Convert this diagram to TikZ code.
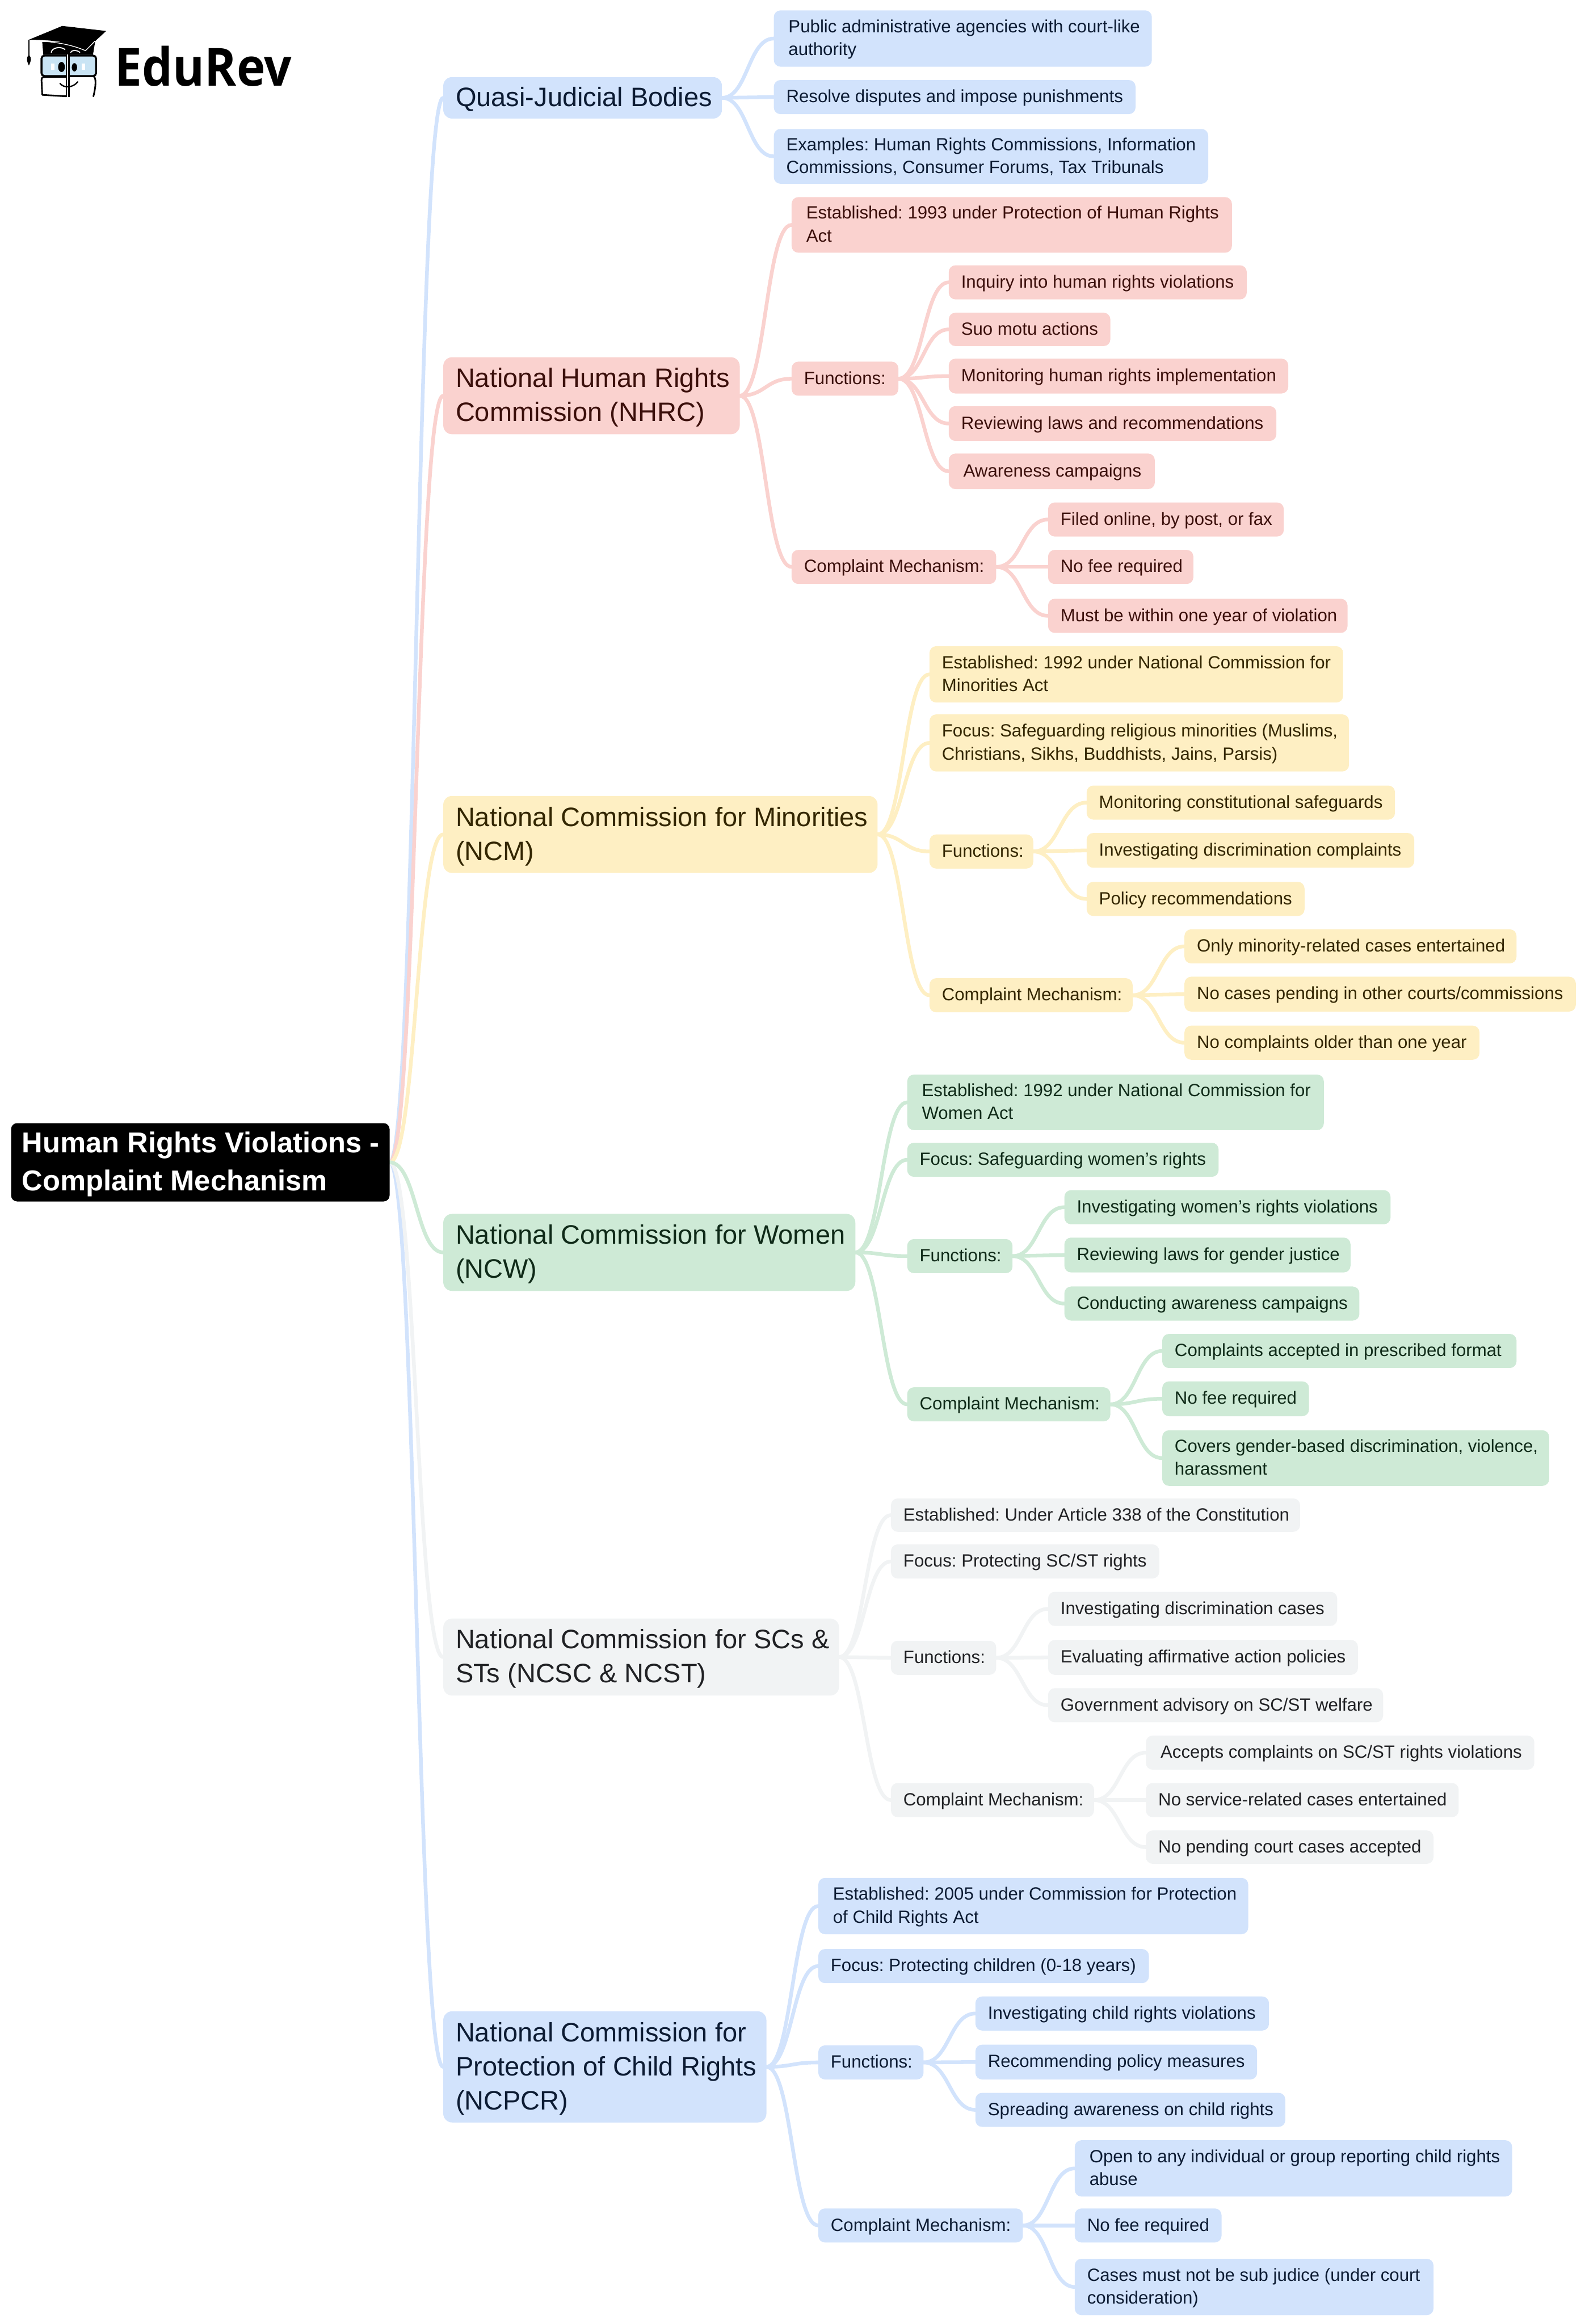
\documentclass[tikz,border=0pt]{standalone}
\usepackage{fontspec}
\usepackage{graphicx}
\setmainfont{Liberation Sans}
\newfontfamily\logofont{Open Sans}
\usetikzlibrary{calc,backgrounds}
\definecolor{cblue}{HTML}{D2E3FC}
\definecolor{cred}{HTML}{FAD2CF}
\definecolor{cyel}{HTML}{FEEFC3}
\definecolor{cgrn}{HTML}{CEEAD6}
\definecolor{cgry}{HTML}{F1F3F4}
\definecolor{tblue}{HTML}{0C1B33}
\definecolor{tred}{HTML}{3B0F0B}
\definecolor{tyel}{HTML}{332600}
\definecolor{tgrn}{HTML}{0F2A18}
\definecolor{tgry}{HTML}{202124}
\definecolor{lens}{HTML}{C9E4F4}
\newcommand{\bxdrop}{1pt}
\tikzset{
  base/.style={rectangle,outer sep=0pt,inner ysep=0pt},
  leaf/.style={base,rounded corners=4.5pt,font=\fontsize{11.95}{15.5}\selectfont\frenchspacing\renewcommand{\bxdrop}{0.6pt}},
  major/.style={base,rounded corners=6pt,font=\fontsize{18}{23}\selectfont\frenchspacing\renewcommand{\bxdrop}{1.3pt}},
  rootbox/.style={base,rounded corners=4pt,fill=black,text=white,font=\fontsize{19.4}{25.5}\selectfont\bfseries\frenchspacing\renewcommand{\bxdrop}{1.3pt}},
  fb/.style={fill=cblue,text=tblue},
  fr/.style={fill=cred,text=tred},
  fy/.style={fill=cyel,text=tyel},
  fg/.style={fill=cgrn,text=tgrn},
  fa/.style={fill=cgry,text=tgry},
  lnkline/.style={line width=2.5pt,line cap=round},
}
\newcommand{\bx}[8]{%
  \pgfmathsetmacro\bxw{#4-#3}%
  \pgfmathsetmacro\bxh{#6-#5}%
  \pgfmathsetmacro\bxi{#4-#3-2*#7}%
  \node[#2,minimum width=\bxw pt,minimum height=\bxh pt,inner xsep=#7 pt,anchor=north west] (#1) at (#3,#5)
   {\makebox[\bxi pt][l]{\hspace{0.4pt}\raisebox{-\bxdrop}[\height][\depth]{\begin{tabular}{@{}l@{}}#8\end{tabular}}}};}
\newcommand{\lnk}[3]{%
  \path let \p1=(#1.east),\p2=(#2.west),\n1={(\x1+\x2)/2} in
   coordinate (lka) at (\n1,\y1) coordinate (lkb) at (\n1,\y2);
  \draw[lnkline,draw=#3] (#1.east) .. controls (lka) and (lkb) .. (#2.west);}
\begin{document}
\begin{tikzpicture}[x=1pt,y=-1pt]
\useasboundingbox (0,0) rectangle (1069,1568);
% logo
\fill[black] (28.5,28.4) -- (64.2,28) -- (62.7,37) -- (29.2,37) -- cycle;
\fill[black] (42,17.5) -- (71.6,20.9) -- (57.7,33.8) .. controls (47,28) and (35,27) .. (19.5,26.8) -- cycle;
\draw[white,line width=.5pt] (28.5,27.8) .. controls (38,28.5) and (48,30) .. (57.7,34.2) -- (64,27.8);
\draw[white,line width=.7pt] (34.5,35.5) .. controls (35,32) and (41,31) .. (44,33.5);
\draw[white,line width=.7pt] (47.5,35.5) .. controls (48.5,33.5) and (52,33.5) .. (54,35.5);
\draw[black,line width=.8pt] (19.5,26.8) -- (19.5,37.4);
\fill[black] (19.5,37) .. controls (17.5,39) and (18,41) .. (19.5,44.2) .. controls (21,41) and (21.5,39) .. (19.5,37) -- cycle;
\draw[black,line width=1.3pt,fill=lens,rounded corners=2pt] (28,37.5) rectangle (64.8,51.3);
\draw[black,line width=1.1pt,line cap=round,line join=round] (45,51.8) -- (30,52) .. controls (28.3,52) and (27.8,53) .. (28,54) -- (28.5,64) -- (45,65);
\draw[black,line width=1.1pt,line cap=round,line join=round] (47,51.5) -- (63,51.5) .. controls (65,52) and (64.8,58) .. (63,65);
\fill[white] (45.2,36.7) rectangle (46.7,65.3);
\draw[black,line width=.8pt] (44.8,36.7) -- (44.8,65);
\draw[black,line width=.8pt] (46.5,36.7) -- (46.5,65.3);
\fill[black] (41.5,45.2) ellipse [x radius=2.3,y radius=3.4];
\fill[black] (50.2,45.4) ellipse [x radius=1.8,y radius=2.8];
\fill[white] (34.3,43) rectangle (36.6,47);
\fill[white] (55,43) rectangle (57.4,47);
\draw[black,line width=.9pt,line cap=round] (40.5,56.3) .. controls (43,59.5) and (49,59.5) .. (52.5,55.2);
\node[inner sep=0pt,anchor=base west,font=\fontsize{35.5}{36}\selectfont\logofont\bfseries] (logo) at (77.5,57.9) {\scalebox{0.92}[1]{EduRev}};
% root
\bx{root}{rootbox}{7.5}{262.8}{757.8}{810.6}{7}{Human Rights Violations -\\Complaint Mechanism}
% Quasi
\bx{qj}{major,fb}{299}{487}{52}{80}{8}{Quasi-Judicial Bodies}
\bx{qa}{leaf,fb}{522}{777}{7}{45}{9.5}{Public administrative agencies with court-like\\authority}
\bx{qb}{leaf,fb}{522}{766}{54}{77}{8}{Resolve disputes and impose punishments}
\bx{qc}{leaf,fb}{522}{815}{87}{124}{8}{Examples: Human Rights Commissions, Information\\Commissions, Consumer Forums, Tax Tribunals}
% NHRC
\bx{nh}{major,fr}{299}{499}{241}{293}{8}{National Human Rights\\Commission (NHRC)}
\bx{nha}{leaf,fr}{534}{831}{133}{170.5}{9.5}{Established: 1993 under Protection of Human Rights\\Act}
\bx{nhf}{leaf,fr}{534}{606}{244}{267}{8}{Functions:}
\bx{nhf1}{leaf,fr}{640}{841}{179}{202}{8}{Inquiry into human rights violations}
\bx{nhf2}{leaf,fr}{640}{749}{211}{233.5}{8}{Suo motu actions}
\bx{nhf3}{leaf,fr}{640}{869}{242}{265.5}{8}{Monitoring human rights implementation}
\bx{nhf4}{leaf,fr}{640}{861}{274}{297.5}{8}{Reviewing laws and recommendations}
\bx{nhf5}{leaf,fr}{640}{779}{306}{330}{9.5}{Awareness campaigns}
\bx{nhc}{leaf,fr}{534}{672}{371}{394}{8}{Complaint Mechanism:}
\bx{nhc1}{leaf,fr}{707}{866}{339}{362}{8}{Filed online, by post, or fax}
\bx{nhc2}{leaf,fr}{707}{805}{371}{394}{8}{No fee required}
\bx{nhc3}{leaf,fr}{707}{909}{404}{427}{8}{Must be within one year of violation}
% NCM
\bx{nm}{major,fy}{299}{592}{537}{589}{8}{National Commission for Minorities\\(NCM)}
\bx{nma}{leaf,fy}{627}{906}{436}{474}{8}{Established: 1992 under National Commission for\\Minorities Act}
\bx{nmb}{leaf,fy}{627}{910}{482}{520.5}{8}{Focus: Safeguarding religious minorities (Muslims,\\Christians, Sikhs, Buddhists, Jains, Parsis)}
\bx{nmf}{leaf,fy}{627}{697}{563}{586}{8}{Functions:}
\bx{nmf1}{leaf,fy}{733}{941}{530}{553}{8}{Monitoring constitutional safeguards}
\bx{nmf2}{leaf,fy}{733}{954}{562}{585.5}{8}{Investigating discrimination complaints}
\bx{nmf3}{leaf,fy}{733}{880}{595}{618}{8}{Policy recommendations}
\bx{nmc}{leaf,fy}{627}{764}{660}{683}{8}{Complaint Mechanism:}
\bx{nmc1}{leaf,fy}{799}{1023}{627}{650}{8}{Only minority-related cases entertained}
\bx{nmc2}{leaf,fy}{799}{1063}{659}{682.5}{8}{No cases pending in other courts/commissions}
\bx{nmc3}{leaf,fy}{799}{998}{692}{715}{8}{No complaints older than one year}
% NCW
\bx{nw}{major,fg}{299}{577}{819}{871}{8}{National Commission for Women\\(NCW)}
\bx{nwa}{leaf,fg}{612}{893}{725}{762.5}{9.5}{Established: 1992 under National Commission for\\Women Act}
\bx{nwb}{leaf,fg}{612}{822}{771}{794}{8}{Focus: Safeguarding women's rights}
\bx{nwf}{leaf,fg}{612}{683}{836}{859}{8}{Functions:}
\bx{nwf1}{leaf,fg}{718}{938}{803}{826}{8}{Investigating women's rights violations}
\bx{nwf2}{leaf,fg}{718}{911}{835}{858.5}{8}{Reviewing laws for gender justice}
\bx{nwf3}{leaf,fg}{718}{917}{868}{891}{8}{Conducting awareness campaigns}
\bx{nwc}{leaf,fg}{612}{749}{936}{959}{8}{Complaint Mechanism:}
\bx{nwc1}{leaf,fg}{784}{1023}{900}{923}{8}{Complaints accepted in prescribed format}
\bx{nwc2}{leaf,fg}{784}{883}{932}{955.5}{8}{No fee required}
\bx{nwc3}{leaf,fg}{784}{1045}{965}{1002.5}{8}{Covers gender-based discrimination, violence,\\harassment}
% NCSC
\bx{ns}{major,fa}{299}{566}{1092}{1144}{8}{National Commission for SCs \&\\STs (NCSC \& NCST)}
\bx{nsa}{leaf,fa}{601}{877}{1011}{1033.5}{8}{Established: Under Article 338 of the Constitution}
\bx{nsb}{leaf,fa}{601}{782}{1042}{1065}{8}{Focus: Protecting SC/ST rights}
\bx{nsf}{leaf,fa}{601}{672}{1107}{1130}{8}{Functions:}
\bx{nsf1}{leaf,fa}{707}{902}{1074}{1097}{8}{Investigating discrimination cases}
\bx{nsf2}{leaf,fa}{707}{916}{1106.5}{1130}{8}{Evaluating affirmative action policies}
\bx{nsf3}{leaf,fa}{707}{933}{1139}{1162}{8}{Government advisory on SC/ST welfare}
\bx{nsc}{leaf,fa}{601}{738}{1203}{1226}{8}{Complaint Mechanism:}
\bx{nsc1}{leaf,fa}{773}{1035}{1171}{1194}{9.5}{Accepts complaints on SC/ST rights violations}
\bx{nsc2}{leaf,fa}{773}{984}{1203}{1226}{8}{No service-related cases entertained}
\bx{nsc3}{leaf,fa}{773}{967}{1235}{1257.5}{8}{No pending court cases accepted}
% NCPCR
\bx{np}{major,fb}{299}{517}{1357}{1432}{8}{National Commission for\\Protection of Child Rights\\(NCPCR)}
\bx{npa}{leaf,fb}{552}{842}{1267}{1305}{9.5}{Established: 2005 under Commission for Protection\\of Child Rights Act}
\bx{npb}{leaf,fb}{552}{775}{1315}{1338}{8}{Focus: Protecting children (0-18 years)}
\bx{npf}{leaf,fb}{552}{623}{1380}{1403}{8}{Functions:}
\bx{npf1}{leaf,fb}{658}{856}{1347}{1370}{8}{Investigating child rights violations}
\bx{npf2}{leaf,fb}{658}{848}{1379.5}{1403}{8}{Recommending policy measures}
\bx{npf3}{leaf,fb}{658}{867}{1412}{1435}{8}{Spreading awareness on child rights}
\bx{npc}{leaf,fb}{552}{690}{1490}{1513}{8}{Complaint Mechanism:}
\bx{npc1}{leaf,fb}{725}{1020}{1444}{1482}{9.5}{Open to any individual or group reporting child rights\\abuse}
\bx{npc2}{leaf,fb}{725}{824}{1490}{1513}{8}{No fee required}
\bx{npc3}{leaf,fb}{725}{967}{1524}{1562}{8}{Cases must not be sub judice (under court\\consideration)}
% connectors
\begin{pgfonlayer}{background}
\lnk{root}{qj}{cblue}
\lnk{root}{nh}{cred}
\lnk{root}{nm}{cyel}
\lnk{root}{np}{cblue}
\lnk{root}{ns}{cgry}
\lnk{root}{nw}{cgrn}
\lnk{qj}{qa}{cblue}\lnk{qj}{qb}{cblue}\lnk{qj}{qc}{cblue}
\lnk{nh}{nha}{cred}\lnk{nh}{nhf}{cred}\lnk{nh}{nhc}{cred}
\lnk{nhf}{nhf1}{cred}\lnk{nhf}{nhf2}{cred}\lnk{nhf}{nhf3}{cred}\lnk{nhf}{nhf4}{cred}\lnk{nhf}{nhf5}{cred}
\lnk{nhc}{nhc1}{cred}\lnk{nhc}{nhc2}{cred}\lnk{nhc}{nhc3}{cred}
\lnk{nm}{nma}{cyel}\lnk{nm}{nmb}{cyel}\lnk{nm}{nmf}{cyel}\lnk{nm}{nmc}{cyel}
\lnk{nmf}{nmf1}{cyel}\lnk{nmf}{nmf2}{cyel}\lnk{nmf}{nmf3}{cyel}
\lnk{nmc}{nmc1}{cyel}\lnk{nmc}{nmc2}{cyel}\lnk{nmc}{nmc3}{cyel}
\lnk{nw}{nwa}{cgrn}\lnk{nw}{nwb}{cgrn}\lnk{nw}{nwf}{cgrn}\lnk{nw}{nwc}{cgrn}
\lnk{nwf}{nwf1}{cgrn}\lnk{nwf}{nwf2}{cgrn}\lnk{nwf}{nwf3}{cgrn}
\lnk{nwc}{nwc1}{cgrn}\lnk{nwc}{nwc2}{cgrn}\lnk{nwc}{nwc3}{cgrn}
\lnk{ns}{nsa}{cgry}\lnk{ns}{nsb}{cgry}\lnk{ns}{nsf}{cgry}\lnk{ns}{nsc}{cgry}
\lnk{nsf}{nsf1}{cgry}\lnk{nsf}{nsf2}{cgry}\lnk{nsf}{nsf3}{cgry}
\lnk{nsc}{nsc1}{cgry}\lnk{nsc}{nsc2}{cgry}\lnk{nsc}{nsc3}{cgry}
\lnk{np}{npa}{cblue}\lnk{np}{npb}{cblue}\lnk{np}{npf}{cblue}\lnk{np}{npc}{cblue}
\lnk{npf}{npf1}{cblue}\lnk{npf}{npf2}{cblue}\lnk{npf}{npf3}{cblue}
\lnk{npc}{npc1}{cblue}\lnk{npc}{npc2}{cblue}\lnk{npc}{npc3}{cblue}
\end{pgfonlayer}
\end{tikzpicture}
\end{document}
